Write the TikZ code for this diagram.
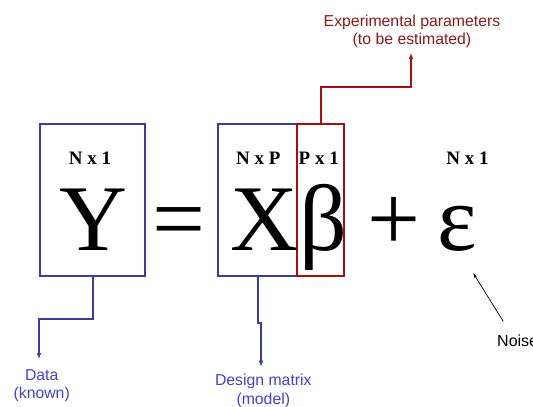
\documentclass[tikz,border=0pt]{standalone}
\usepackage{fontspec}
\setmainfont{Liberation Serif}
\newfontfamily\labelfont{Liberation Sans}
\usetikzlibrary{arrows.meta}
\definecolor{boxblue}{RGB}{60,60,160}
\definecolor{textblue}{RGB}{66,66,204}
\definecolor{boxred}{RGB}{160,16,16}
\definecolor{textred}{RGB}{140,24,24}
\tikzset{
    bluebox/.style={draw=boxblue, line width=2pt, inner sep=0pt},
    redbox/.style={draw=boxred, line width=2pt, inner sep=0pt},
    symb/.style={anchor=base, inner sep=0pt, font=\fontsize{94}{94}\selectfont},
    dims/.style={anchor=base, inner sep=0pt, font=\fontsize{19}{19}\selectfont\bfseries},
    note/.style={align=center, inner sep=2pt, font=\labelfont\fontsize{15.8}{18.3}\selectfont},
    blueline/.style={draw=boxblue, line width=2pt, -{Latex[length=6pt,width=5pt]}},
    redline/.style={draw=boxred, line width=2pt, -{Latex[length=6pt,width=5pt]}},
}
\begin{document}
\begin{tikzpicture}[x=1pt, y=-1pt]
    \useasboundingbox (0,0) rectangle (533,407);

    % Boxes
    \node[bluebox, minimum width=105pt, minimum height=152pt] (ybox) at (92.5,200) {};
    \node[bluebox, minimum width=79pt, minimum height=152pt] (xbox) at (257.5,200) {};
    \node[redbox, minimum width=47pt, minimum height=152pt] (betabox) at (320.5,200) {};

    % Equation
    \node[symb] (ysym) at (93.3,250) {Y};
    \node[symb] (eqsym) at (179.5,250) {=};
    \node[symb] (xsym) at (264.2,250) {X};
    \node[symb] (betasym) at (323,250) {β};
    \node[symb] (plussym) at (394,250) {+};
    \node[symb] (epssym) at (457.5,250) {ε};

    % Sizes
    \node[dims] (ydim) at (90,164.5) {N x 1};
    \node[dims] (xdim) at (258.3,164.5) {N x P};
    \node[dims] (betadim) at (318.7,164.5) {P x 1};
    \node[dims] (epsdim) at (467.5,164.5) {N x 1};

    % Labels
    \node[note, text=textred, anchor=south] (params) at (412,50) {Experimental parameters\\(to be estimated)};
    \node[note, text=textblue, anchor=north] (data) at (41.7,367) {Data\\(known)};
    \node[note, text=textblue, anchor=north] (design) at (263.3,372.3) {Design matrix\\(model)};
    \node[note, anchor=west, font=\labelfont\fontsize{16}{18}\selectfont] (noise) at (495,341) {Noise};

    % Connectors
    \draw[redline] (betabox.north) -- ++(0,-36.3) -| ([xshift=-1pt,yshift=-3pt]params.south);
    \draw[blueline] (ybox.south) -- ++(0,42.3) -| ([xshift=-2.7pt,yshift=8pt]data.north);
    \draw[blueline] ([xshift=0.8pt]xbox.south) -- ++(0,45.7) -| ([xshift=-2.3pt,yshift=5.6pt]design.north);
    \coordinate (epstip) at (473.3,273.3);
    \draw[-{Stealth[length=5pt,width=3pt]}, line width=0.7pt] ([xshift=8.3pt,yshift=11.5pt]noise.north west) -- (epstip);
\end{tikzpicture}
\end{document}
